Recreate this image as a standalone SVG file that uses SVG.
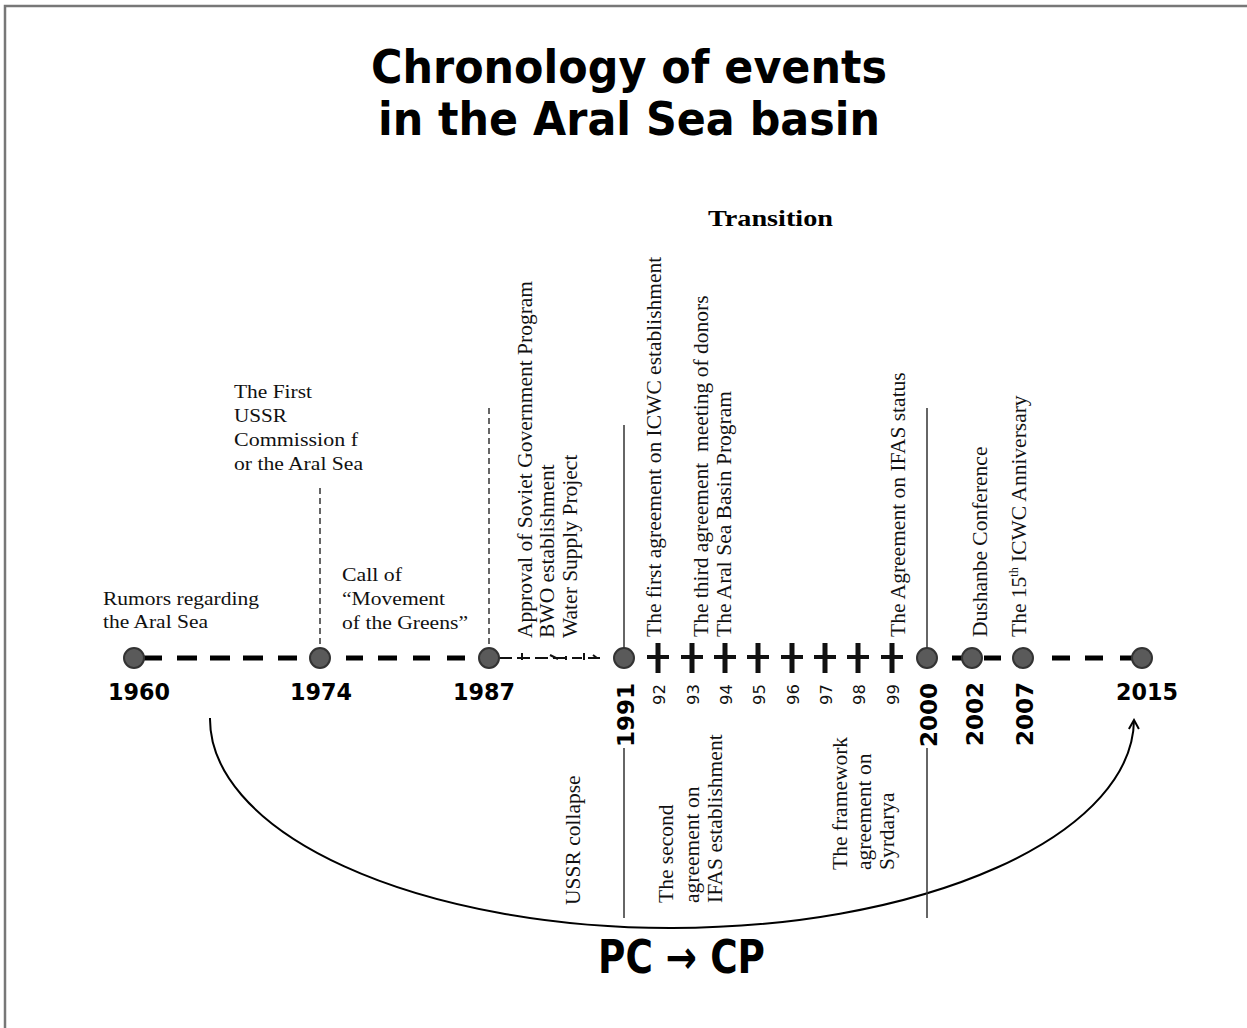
<svg xmlns="http://www.w3.org/2000/svg" width="1247" height="1028" viewBox="0 0 1247 1028">
<defs>
<style>
.title{font-family:"DejaVu Sans",Verdana,sans-serif;font-weight:bold;font-size:46px;fill:#000}
.yr{font-family:"DejaVu Sans",Verdana,sans-serif;font-weight:bold;font-size:23px;fill:#000}
.sm{font-family:"DejaVu Sans",Verdana,sans-serif;font-size:16.5px;fill:#111}
.lbl{font-family:"Liberation Serif","Times New Roman",serif;font-size:19.5px;fill:#111}
.rl{font-family:"Liberation Serif","Times New Roman",serif;font-size:21.5px;fill:#111}
.node{fill:#5a5a5a;stroke:#333;stroke-width:2}
.dash{stroke:#000;stroke-width:5;fill:none}
.vd{stroke:#333;stroke-width:1.5;stroke-dasharray:6 4;fill:none}
.vs{stroke:#333;stroke-width:1.5;fill:none}
.cross{stroke:#111;fill:none}
</style>
<marker id="arr" viewBox="0 0 12 12" refX="10" refY="6" markerWidth="12" markerHeight="12" markerUnits="userSpaceOnUse" orient="auto">
<path d="M1 1 L10 6 L1 11" fill="none" stroke="#000" stroke-width="2"/>
</marker>
</defs>
<rect width="1247" height="1028" fill="#fff"/>
<path d="M5 1028 V6 H1247" fill="none" stroke="#777" stroke-width="2.5"/>

<g id="title">
<text class="title" x="371" y="83" textLength="516" lengthAdjust="spacingAndGlyphs">Chronology of events</text>
<text class="title" x="378" y="135" textLength="502" lengthAdjust="spacingAndGlyphs">in the Aral Sea basin</text>
</g>
<g id="transition"><text x="708" y="226" font-family="Liberation Serif,serif" font-weight="bold" font-size="24" textLength="125" lengthAdjust="spacingAndGlyphs">Transition</text></g>

<g id="connectors">
<path d="M210 718 A462 209 0 0 0 1134 720" fill="none" stroke="#000" stroke-width="2" marker-end="url(#arr)"/>
<path class="dash" d="M144 658 H162 M177 658 H197 M210 658 H230 M243 658 H263 M278 658 H297 M346 658 H363 M378 658 H397 M413 658 H430 M447 658 H465 M952 658 H964 M984 658 H1001 M1052 658 H1070 M1085 658 H1103 M1120 658 H1133"/>
<path d="M499 658 H512 M517 658 H530 M535 658 H548 M553 658 H566 M572 658 H582 M588 658 H600" stroke="#111" stroke-width="2" fill="none"/>
<path d="M522 653 V660 M550 655 L554 657 L558 659 M566 656 V660 M584 653 V660 M593 655 L597 658" stroke="#111" stroke-width="2" fill="none"/>
<line class="vd" x1="320" y1="488" x2="320" y2="648"/>
<line class="vd" x1="489" y1="408" x2="489" y2="648"/>
<line class="vs" x1="624" y1="425" x2="624" y2="648"/>
<line class="vs" x1="624" y1="748" x2="624" y2="918"/>
<line class="vs" x1="927" y1="408" x2="927" y2="648"/>
<line class="vs" x1="927" y1="748" x2="927" y2="918"/>
</g>

<g id="crosses">
<path class="cross" stroke-width="5" d="M658 643 V673 M692 643 V673 M725 643 V673 M758 643 V673 M792 643 V673 M825 643 V673 M858 643 V673 M892 643 V673"/>
<path class="cross" stroke-width="4" d="M647 657 H669 M681 657 H703 M714 657 H736 M747 657 H769 M781 657 H803 M814 657 H836 M847 657 H869 M881 657 H903"/>
</g>

<g id="n1960"><circle class="node" cx="134" cy="658" r="10"/><text class="yr" x="108" y="700" textLength="62" lengthAdjust="spacingAndGlyphs">1960</text></g>
<g id="n1974"><circle class="node" cx="320" cy="658" r="10"/><text class="yr" x="290" y="700" textLength="62" lengthAdjust="spacingAndGlyphs">1974</text></g>
<g id="n1987"><circle class="node" cx="489" cy="658" r="10"/><text class="yr" x="453" y="700" textLength="62" lengthAdjust="spacingAndGlyphs">1987</text></g>
<g id="n1991"><circle class="node" cx="624" cy="658" r="10"/><text class="yr" transform="translate(634 747) rotate(-90)" textLength="64" lengthAdjust="spacingAndGlyphs">1991</text></g>
<g id="n2000"><circle class="node" cx="927" cy="658" r="10"/><text class="yr" transform="translate(937 747) rotate(-90)" textLength="64" lengthAdjust="spacingAndGlyphs">2000</text></g>
<g id="n2002"><circle class="node" cx="972" cy="658" r="10"/><text class="yr" transform="translate(983 746) rotate(-90)" textLength="64" lengthAdjust="spacingAndGlyphs">2002</text></g>
<g id="n2007"><circle class="node" cx="1023" cy="658" r="10"/><text class="yr" transform="translate(1033 746) rotate(-90)" textLength="64" lengthAdjust="spacingAndGlyphs">2007</text></g>
<g id="n2015"><circle class="node" cx="1142" cy="658" r="10"/><text class="yr" x="1116" y="700" textLength="62" lengthAdjust="spacingAndGlyphs">2015</text></g>

<g id="smallyears">
<text class="sm" transform="translate(665 705) rotate(-90)">92</text>
<text class="sm" transform="translate(699 705) rotate(-90)">93</text>
<text class="sm" transform="translate(732 705) rotate(-90)">94</text>
<text class="sm" transform="translate(765 705) rotate(-90)">95</text>
<text class="sm" transform="translate(799 705) rotate(-90)">96</text>
<text class="sm" transform="translate(832 705) rotate(-90)">97</text>
<text class="sm" transform="translate(865 705) rotate(-90)">98</text>
<text class="sm" transform="translate(899 705) rotate(-90)">99</text>
</g>

<g id="rumors">
<text class="lbl" x="103" y="605" textLength="156" lengthAdjust="spacingAndGlyphs">Rumors regarding</text>
<text class="lbl" x="103" y="628" textLength="105" lengthAdjust="spacingAndGlyphs">the Aral Sea</text>
</g>
<g id="firstussr">
<text class="lbl" x="234" y="398" textLength="78" lengthAdjust="spacingAndGlyphs">The First</text>
<text class="lbl" x="234" y="422" textLength="53" lengthAdjust="spacingAndGlyphs">USSR</text>
<text class="lbl" x="234" y="446" textLength="124" lengthAdjust="spacingAndGlyphs">Commission f</text>
<text class="lbl" x="234" y="470" textLength="129" lengthAdjust="spacingAndGlyphs">or the Aral Sea</text>
</g>
<g id="greens">
<text class="lbl" x="342" y="581" textLength="60" lengthAdjust="spacingAndGlyphs">Call of</text>
<text class="lbl" x="342" y="605" textLength="103" lengthAdjust="spacingAndGlyphs">“Movement</text>
<text class="lbl" x="342" y="629" textLength="126" lengthAdjust="spacingAndGlyphs">of the Greens”</text>
</g>
<g id="approval">
<text class="rl" transform="translate(532 638) rotate(-90)">Approval of Soviet Government Program</text>
<text class="rl" transform="translate(554 638) rotate(-90)">BWO establishment</text>
<text class="rl" transform="translate(577 638) rotate(-90)">Water Supply Project</text>
</g>
<g id="icwc1"><text class="rl" transform="translate(661 637) rotate(-90)">The first agreement on ICWC establishment</text></g>
<g id="donors"><text class="rl" transform="translate(708 637) rotate(-90)">The third agreement &#160;meeting of donors</text></g>
<g id="asbp"><text class="rl" transform="translate(731 637) rotate(-90)">The Aral Sea Basin Program</text></g>
<g id="ifasstatus"><text class="rl" transform="translate(905 637) rotate(-90)">The Agreement on IFAS status</text></g>
<g id="dushanbe"><text class="rl" transform="translate(987 637) rotate(-90)">Dushanbe Conference</text></g>
<g id="anniv"><text class="rl" transform="translate(1026 637) rotate(-90)">The 15<tspan font-size="12" dy="-8">th</tspan><tspan dy="8"> ICWC Anniversary</tspan></text></g>
<g id="collapse"><text class="rl" transform="translate(580 905) rotate(-90)">USSR collapse</text></g>
<g id="second">
<text class="rl" transform="translate(673 903) rotate(-90)">The second</text>
<text class="rl" transform="translate(699 903) rotate(-90)">agreement on</text>
<text class="rl" transform="translate(722 903) rotate(-90)">IFAS establishment</text>
</g>
<g id="framework">
<text class="rl" transform="translate(847 870) rotate(-90)">The framework</text>
<text class="rl" transform="translate(871 870) rotate(-90)">agreement on</text>
<text class="rl" transform="translate(894 870) rotate(-90)">Syrdarya</text>
</g>
<g id="pccp"><text class="title" x="598" y="973" font-size="38" textLength="167" lengthAdjust="spacingAndGlyphs">PC → CP</text></g>
</svg>
